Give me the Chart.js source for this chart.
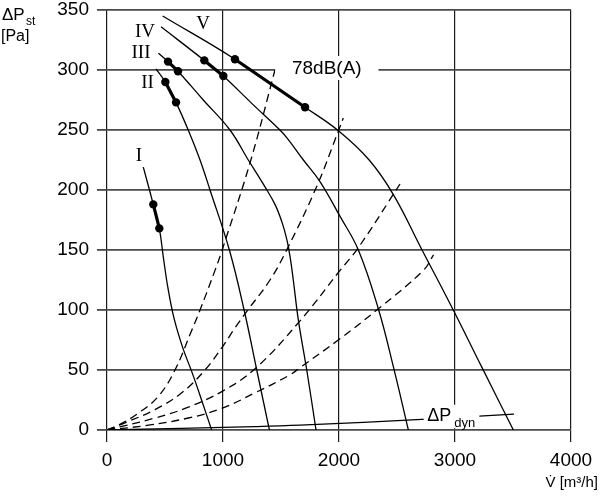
<!DOCTYPE html>
<html>
<head>
<meta charset="utf-8">
<script src="https://cdn.jsdelivr.net/npm/chart.js@4.4.0/dist/chart.umd.min.js"></script>
<style>
html, body { margin: 0; padding: 0; background: #fff; }
#wrap { width: 600px; height: 500px; }
</style>
</head>
<body>
<div id="wrap"><canvas id="fanChart" width="600" height="500"></canvas></div>
<script>
// 坐标刻度
const xTicks = [0, 1000, 2000, 3000, 4000];
const yTicks = [0, 50, 100, 150, 200, 250, 300, 350];

// 风机特性曲线 I - V  (V̇ m³/h, ΔPst Pa)
const curve1X = [313, 399, 451, 487, 526, 578, 655, 733, 819, 902];
const curve1Y = [219, 188, 168, 143, 118, 93, 68, 48, 24, 0];
const curve2X = [422, 503, 595, 700, 802, 888, 1055, 1182, 1291, 1400];
const curve2Y = [301, 290, 273, 250, 225, 200, 150, 100, 50, 0];
const curve3X = [443, 526, 612, 830, 1060, 1218, 1353, 1448, 1509, 1552, 1582, 1606, 1649, 1722, 1802];
const curve3Y = [314, 307, 299, 275, 250, 225, 204, 188, 173, 158, 142, 125, 92, 50, 0];
const curve4X = [466, 839, 1003, 1250, 1491, 1563, 1693, 1836, 2009, 2167, 2339, 2468, 2598];
const curve4Y = [336, 308, 295, 272, 250, 242, 225, 207, 178, 150, 101, 53, 0];
const curve5X = [480, 1103, 1707, 2000, 2260, 2470, 2716, 2985, 3228, 3503];
const curve5Y = [345, 309, 269, 249, 225, 196, 150, 100, 53, 0];

// 工作点 (粗线段两端)
const dots1X = [399, 451];
const dots1Y = [188, 168];
const dots2X = [503, 595];
const dots2Y = [290, 273];
const dots3X = [526, 612];
const dots3Y = [307, 299];
const dots4X = [839, 1003];
const dots4Y = [308, 295];
const dots5X = [1103, 1707];
const dots5Y = [309, 269];

// 管网特性 (虚线)
const sys1X = [0, 98, 270, 442, 586, 730, 802, 931, 1003, 1240, 1448];
const sys1Y = [0, 4, 14, 28, 50, 83, 100, 133, 153, 225, 300];
const sys2X = [0, 155, 414, 644, 845, 1000, 1103, 1214, 1405, 1549, 1808, 1994, 2037];
const sys2Y = [0, 6, 17, 31, 50, 70, 85, 100, 125, 150, 203, 249, 260];
const sys3X = [0, 414, 701, 989, 1276, 1664, 2009, 2167, 2526];
const sys3Y = [0, 10, 19, 32, 51, 91, 133, 152, 205];
const sys4X = [0, 356, 701, 989, 1276, 1578, 1664, 1994, 2339, 2727, 2815];
const sys4Y = [0, 4, 10, 18, 31, 46, 52, 75, 101, 133, 146];

// 动压线
const dynX = [0, 1276, 1664, 2756, 3509];
const dynY = [0, 2.8, 4, 9, 13.3];

const curveNames = ['I', 'II', 'III', 'IV', 'V'];

function pts(xs, ys) {
    return xs.map((x, i) => ({ x: x, y: ys[i] }));
}

function curveSet(xs, ys) {
    return {
        data: pts(xs, ys),
        showLine: true,
        borderColor: '#000',
        borderWidth: 1.3,
        pointRadius: 0,
        tension: 0.4
    };
}

function dotSet(xs, ys) {
    return {
        data: pts(xs, ys),
        showLine: true,
        borderColor: '#000',
        borderWidth: 3.2,
        pointRadius: 4.2,
        pointBackgroundColor: '#000',
        pointBorderWidth: 0
    };
}

function dashSet(xs, ys) {
    return {
        data: pts(xs, ys),
        showLine: true,
        borderColor: '#000',
        borderWidth: 1.3,
        borderDash: [8, 5],
        pointRadius: 0,
        tension: 0.4
    };
}

// 文字标注
const labelPlugin = {
    id: 'labels',
    afterDraw(chart) {
        const ctx = chart.ctx;
        const xs = chart.scales.x, ys = chart.scales.y;
        const px = v => xs.getPixelForValue(v);
        const py = v => ys.getPixelForValue(v);
        ctx.save();
        ctx.fillStyle = '#000';

        // 曲线编号
        const namePos = [[276, 228], [349, 289], [293, 314], [328, 332], [828, 338]];
        ctx.font = '19px "Liberation Serif", "Times New Roman", serif';
        ctx.textAlign = 'center';
        ctx.textBaseline = 'middle';
        curveNames.forEach((n, i) => ctx.fillText(n, px(namePos[i][0]), py(namePos[i][1])));

        // 78dB(A)
        ctx.fillStyle = '#fff';
        ctx.fillRect(px(1450), py(310) - 2, px(2340) - px(1450), 24);
        ctx.fillStyle = '#000';
        ctx.font = '19px "Liberation Sans", Arial, sans-serif';
        ctx.textAlign = 'center';
        ctx.fillText('78dB(A)', (px(1450) + px(2340)) / 2, py(300) - 1);

        // ΔPdyn
        ctx.fillStyle = '#fff';
        ctx.fillRect(px(2730), py(21), px(3210) - px(2730), py(1.5) - py(21));
        ctx.fillStyle = '#000';
        ctx.textAlign = 'left';
        ctx.textBaseline = 'alphabetic';
        ctx.font = '18px "Liberation Sans", Arial, sans-serif';
        ctx.fillText('ΔP', px(2760), py(7.5));
        ctx.font = '13px "Liberation Sans", Arial, sans-serif';
        ctx.fillText('dyn', px(2760) + 27, py(7.5) + 6);

        // 轴标题
        ctx.font = '17px "Liberation Sans", Arial, sans-serif';
        ctx.fillText('ΔP', 2, 20);
        ctx.font = '12px "Liberation Sans", Arial, sans-serif';
        ctx.fillText('st', 26, 25);
        ctx.font = '16px "Liberation Sans", Arial, sans-serif';
        ctx.fillText('[Pa]', 1, 41);
        ctx.font = '15px "Liberation Sans", Arial, sans-serif';
        ctx.textAlign = 'right';
        ctx.fillText('V\u0307 [m³/h]', 598, 487);
        ctx.restore();
    }
};

Chart.defaults.font.family = '"Liberation Sans", Arial, sans-serif';
Chart.defaults.color = '#000';

const datasets = [
    dashSet(sys1X, sys1Y), dashSet(sys2X, sys2Y), dashSet(sys3X, sys3Y), dashSet(sys4X, sys4Y),
    curveSet(dynX, dynY),
    curveSet(curve1X, curve1Y), curveSet(curve2X, curve2Y), curveSet(curve3X, curve3Y),
    curveSet(curve4X, curve4Y), curveSet(curve5X, curve5Y),
    dotSet(dots1X, dots1Y), dotSet(dots2X, dots2Y), dotSet(dots3X, dots3Y),
    dotSet(dots4X, dots4Y), dotSet(dots5X, dots5Y)
];

new Chart(document.getElementById('fanChart'), {
    type: 'scatter',
    data: { datasets: datasets },
    options: {
        responsive: false,
        animation: false,
        events: [],
        layout: { padding: { left: 0, right: 29, top: 10, bottom: 0 } },
        plugins: {
            legend: { display: false },
            tooltip: { enabled: false }
        },
        scales: {
            x: {
                type: 'linear',
                min: xTicks[0],
                max: xTicks[xTicks.length - 1],
                afterBuildTicks: s => { s.ticks = xTicks.map(v => ({ value: v })); },
                afterFit: s => { s.height = 70; s.paddingLeft = 0; s.paddingRight = 0; },
                ticks: { font: { size: 19 }, padding: 7, maxRotation: 0, callback: v => String(v) },
                grid: { color: '#1a1a1a', lineWidth: 1.2, tickLength: 12 },
                border: { display: false }
            },
            y: {
                type: 'linear',
                min: yTicks[0],
                max: yTicks[yTicks.length - 1],
                afterBuildTicks: s => { s.ticks = yTicks.map(v => ({ value: v })); },
                afterFit: s => { s.width = 107; s.paddingTop = 0; s.paddingBottom = 0; },
                ticks: { font: { size: 19 }, padding: 8, callback: v => String(v) },
                grid: { color: '#4a4a4a', lineWidth: 1.8, tickLength: 10 },
                border: { display: false }
            }
        }
    },
    plugins: [labelPlugin]
});
</script>
</body>
</html>
